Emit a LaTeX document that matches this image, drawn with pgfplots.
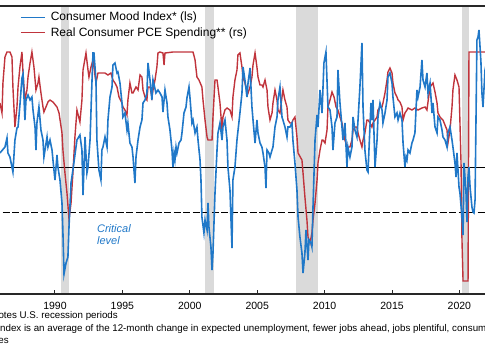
\documentclass[border=0pt]{standalone}
\usepackage{fontspec}
\setmainfont{Liberation Sans}
\usepackage{pgfplots}
\pgfplotsset{compat=1.18}
\definecolor{moodblue}{RGB}{32,120,200}
\definecolor{pcered}{RGB}{192,52,60}
\definecolor{recgray}{RGB}{218,218,218}
\definecolor{framecol}{RGB}{40,40,40}

\pgfplotstableread{
year v
1985.92 0.28
1986.29 0.40
1986.44 0.58
1986.51 0.28
1986.66 0.20
1986.88 -0.10
1987.03 0.54
1987.18 0.78
1987.26 0.80
1987.40 1.24
1987.55 1.78
1987.63 1.86
1987.77 0.94
1987.85 1.34
1988.00 1.44
1988.15 1.34
1988.29 1.40
1988.37 1.14
1988.52 0.80
1988.59 0.34
1988.66 0.88
1988.81 1.20
1988.96 0.74
1989.11 0.54
1989.18 0.20
1989.41 0.60
1989.48 0.40
1989.63 0.54
1989.78 0.34
1989.85 0.14
1990.00 -0.26
1990.15 0.24
1990.22 0.00
1990.37 -0.26
1990.52 -0.72
1990.59 -1.32
1990.67 -2.14
1990.82 -1.92
1990.96 -1.80
1991.04 -1.20
1991.19 -0.32
1991.33 -0.06
1991.63 0.54
1991.85 0.64
1992.00 0.34
1992.08 -0.56
1992.23 0.60
1992.37 -0.12
1992.45 0.00
1992.60 0.54
1992.74 1.68
1992.82 2.28
1992.89 2.28
1993.04 1.74
1993.11 0.54
1993.26 -0.06
1993.41 -0.26
1993.48 0.34
1993.56 0.40
1993.71 0.60
1993.86 0.40
1993.93 0.94
1994.08 1.40
1994.23 1.60
1994.30 2.04
1994.45 2.08
1994.60 1.88
1994.67 1.90
1994.82 1.68
1994.97 1.28
1995.04 1.00
1995.19 1.08
1995.34 0.74
1995.41 0.88
1995.56 0.48
1995.71 0.40
1995.79 0.20
1995.93 -0.32
1996.01 0.20
1996.16 0.54
1996.31 0.80
1996.45 0.94
1996.53 1.28
1996.68 1.34
1996.82 1.48
1996.90 2.08
1997.05 1.74
1997.19 1.34
1997.27 1.74
1997.49 1.48
1997.64 1.54
1997.79 1.48
1997.94 1.40
1998.01 1.10
1998.16 1.54
1998.31 1.28
1998.38 1.00
1998.53 0.74
1998.68 0.34
1998.75 0.00
1998.83 0.28
1998.90 0.14
1998.98 0.40
1999.05 0.28
1999.20 0.48
1999.35 0.54
1999.42 0.68
1999.57 1.08
1999.72 1.20
1999.79 1.38
1999.94 1.60
2000.01 1.40
2000.16 0.88
2000.24 0.94
2000.39 0.68
2000.53 0.80
2000.61 0.54
2000.76 0.14
2000.83 -0.26
2000.90 -1.00
2001.05 -1.32
2001.13 -1.06
2001.28 -1.26
2001.35 -0.72
2001.42 -1.20
2001.57 -1.60
2001.65 -2.06
2001.72 -1.72
2001.87 -0.52
2002.02 0.34
2002.09 0.68
2002.24 0.88
2002.39 0.54
2002.46 0.80
2002.61 0.94
2002.76 0.54
2002.83 0.00
2002.98 -0.46
2003.13 -1.62
2003.20 -0.26
2003.35 0.00
2003.50 0.54
2003.72 1.08
2003.87 1.48
2003.95 2.00
2004.09 1.74
2004.24 1.40
2004.32 1.68
2004.47 1.98
2004.61 1.20
2004.69 0.94
2004.84 0.48
2004.98 0.94
2005.06 0.68
2005.21 0.48
2005.35 0.40
2005.43 0.28
2005.58 0.00
2005.65 -0.42
2005.73 0.34
2005.87 0.28
2005.95 0.20
2006.10 0.34
2006.17 0.40
2006.32 0.80
2006.47 1.00
2006.54 1.34
2006.69 1.60
2006.84 1.00
2006.91 0.94
2007.06 0.80
2007.21 0.60
2007.28 0.80
2007.43 0.80
2007.58 0.88
2007.65 0.54
2007.80 0.08
2007.95 -0.46
2008.03 -1.00
2008.17 -1.40
2008.32 -1.72
2008.40 -2.12
2008.54 -1.72
2008.62 -1.26
2008.77 -1.86
2008.84 -1.46
2008.99 -1.52
2009.06 -1.60
2009.14 -0.80
2009.29 0.54
2009.44 1.04
2009.51 0.80
2009.66 1.54
2009.81 1.08
2009.95 2.08
2010.10 2.30
2010.25 1.20
2010.40 1.14
2010.55 0.80
2010.62 0.34
2010.77 0.88
2010.92 1.00
2010.99 1.94
2011.14 1.28
2011.29 0.80
2011.36 0.54
2011.51 0.88
2011.66 0.00
2011.73 0.40
2011.88 0.20
2012.03 0.40
2012.11 1.00
2012.25 0.74
2012.40 0.60
2012.48 0.94
2012.62 1.60
2012.77 2.48
2012.85 1.20
2012.99 0.34
2013.14 -0.06
2013.22 -0.10
2013.29 0.34
2013.44 1.28
2013.51 0.94
2013.59 1.34
2013.74 0.00
2013.89 0.54
2013.96 1.00
2014.11 1.28
2014.26 1.14
2014.33 0.88
2014.48 1.08
2014.63 1.34
2014.70 1.80
2014.85 1.88
2015.00 1.68
2015.07 1.40
2015.22 1.00
2015.37 1.08
2015.45 0.94
2015.59 1.08
2015.74 0.94
2015.82 0.48
2015.96 0.00
2016.04 0.20
2016.11 0.14
2016.19 0.34
2016.33 0.28
2016.48 0.48
2016.56 0.54
2016.70 0.68
2016.85 1.54
2016.93 1.40
2017.08 1.60
2017.22 2.14
2017.30 1.74
2017.45 1.60
2017.59 1.88
2017.67 1.48
2017.82 1.68
2017.97 1.08
2018.04 1.28
2018.19 0.80
2018.34 0.68
2018.41 1.00
2018.56 0.94
2018.71 0.74
2018.78 0.60
2018.93 0.54
2019.08 0.40
2019.15 0.68
2019.30 0.80
2019.45 0.54
2019.52 0.40
2019.67 0.08
2019.75 -0.20
2019.82 0.28
2019.97 -0.40
2020.04 -0.52
2020.19 -1.00
2020.27 -1.36
2020.34 0.08
2020.49 -0.52
2020.56 -1.10
2020.64 -0.20
2020.71 0.00
2020.79 -0.40
2020.93 -0.80
2021.01 -0.90
2021.08 -0.92
2021.16 -0.66
2021.23 0.94
2021.30 2.54
2021.38 2.60
2021.45 2.74
2021.53 2.40
2021.60 2.08
2021.67 1.48
2021.75 1.20
2021.90 1.94
2022.05 2.14
}\mooddata

\pgfplotstableread{
year r
1985.92 3.20
1986.07 2.70
1986.14 4.20
1986.29 5.50
1986.44 5.75
1986.66 5.75
1986.81 5.50
1986.88 4.00
1987.03 2.00
1987.18 3.00
1987.26 4.00
1987.40 5.00
1987.55 5.75
1987.63 4.70
1987.77 3.35
1987.92 3.85
1988.00 4.50
1988.15 5.20
1988.29 5.75
1988.44 5.00
1988.59 3.85
1988.74 4.20
1988.81 4.50
1988.96 3.70
1989.11 3.00
1989.18 2.75
1989.33 3.00
1989.48 3.25
1989.63 3.35
1989.85 3.25
1990.15 3.00
1990.30 2.70
1990.52 1.70
1990.59 0.85
1990.74 -0.30
1990.89 -1.30
1991.04 -2.60
1991.19 -1.80
1991.33 -0.30
1991.48 1.50
1991.63 2.85
1991.85 2.25
1992.00 3.35
1992.08 4.85
1992.30 5.70
1992.45 4.85
1992.52 4.50
1992.67 5.00
1992.82 5.35
1992.89 5.00
1993.04 4.20
1993.19 4.70
1993.48 4.70
1993.71 4.70
1993.93 4.60
1994.15 4.70
1994.30 4.35
1994.45 4.20
1994.60 4.00
1994.75 3.50
1994.97 3.20
1995.04 3.00
1995.19 2.85
1995.34 2.60
1995.41 3.35
1995.56 4.20
1995.71 3.70
1995.79 3.70
1996.01 4.00
1996.16 3.85
1996.31 4.60
1996.45 4.50
1996.53 3.85
1996.68 3.50
1996.82 3.35
1996.90 4.00
1997.05 4.00
1997.19 3.50
1997.27 3.85
1997.42 4.35
1997.56 5.00
1997.64 5.70
1997.79 5.75
1998.01 5.70
1998.09 5.10
1998.16 5.70
1998.75 5.75
2000.24 5.75
2000.39 5.35
2000.53 4.50
2000.68 4.35
2000.90 4.00
2000.98 3.35
2001.13 2.35
2001.28 1.50
2001.35 1.35
2001.65 1.35
2001.72 2.50
2001.87 4.35
2002.02 4.35
2002.09 4.00
2002.24 3.20
2002.39 1.85
2002.46 2.50
2002.61 2.85
2002.76 2.95
2002.98 2.85
2003.13 2.50
2003.20 3.50
2003.35 4.35
2003.50 4.85
2003.57 5.60
2003.72 5.70
2003.87 5.00
2003.95 4.50
2004.09 4.20
2004.24 3.85
2004.32 3.70
2004.47 4.00
2004.61 4.50
2004.69 5.10
2004.84 5.70
2004.98 5.00
2005.06 4.50
2005.21 4.10
2005.35 4.10
2005.43 4.00
2005.58 4.35
2005.73 3.85
2005.80 3.00
2005.95 2.35
2006.10 2.70
2006.17 3.20
2006.32 3.85
2006.47 3.35
2006.54 2.85
2006.69 2.70
2006.84 3.50
2006.91 3.85
2007.06 3.35
2007.21 3.00
2007.28 2.35
2007.43 2.20
2007.58 2.20
2007.65 2.35
2007.80 2.50
2007.95 1.50
2008.03 0.70
2008.32 0.35
2008.40 -0.30
2008.54 -1.50
2008.69 -2.65
2008.77 -3.50
2008.92 -3.80
2009.06 -3.30
2009.14 -2.65
2009.29 -1.80
2009.44 -0.65
2009.51 0.20
2009.66 0.85
2009.81 1.35
2009.88 1.35
2010.03 1.20
2010.18 1.85
2010.25 3.00
2010.40 3.35
2010.55 3.75
2010.70 3.50
2010.85 3.00
2010.99 2.85
2011.14 2.50
2011.29 2.20
2011.36 1.85
2011.51 1.35
2011.66 1.00
2011.88 1.00
2012.03 1.35
2012.11 1.85
2012.25 2.00
2012.40 2.00
2012.48 1.70
2012.62 1.35
2012.77 1.00
2012.85 1.35
2012.99 1.70
2013.14 2.35
2013.22 2.35
2013.37 2.20
2013.51 2.00
2013.59 2.20
2013.74 2.35
2013.89 2.50
2013.96 2.85
2014.11 3.00
2014.26 3.00
2014.33 3.20
2014.48 3.70
2014.63 4.35
2014.70 4.75
2014.85 4.95
2015.00 4.70
2015.07 4.20
2015.22 3.70
2015.37 3.50
2015.45 3.35
2015.59 3.25
2015.74 3.00
2015.82 2.35
2015.96 2.70
2016.11 2.85
2016.19 2.95
2016.48 2.85
2016.70 2.95
2016.93 2.85
2017.22 2.95
2017.45 3.00
2017.59 2.85
2017.82 4.00
2018.04 4.20
2018.19 3.75
2018.34 3.20
2018.41 2.70
2018.56 2.50
2018.78 2.35
2019.08 1.85
2019.15 1.20
2019.30 1.85
2019.45 3.00
2019.52 3.85
2019.67 4.60
2019.82 4.35
2019.97 4.00
2020.12 0.20
2020.19 -3.65
2020.27 -5.70
2020.64 -5.70
2020.71 5.75
2021.90 5.75
2022.27 5.75
}\pcedata

\begin{document}
\begin{tikzpicture}
\useasboundingbox (0pt,0pt) rectangle (485pt,360pt);
\clip (0pt,0pt) rectangle (485pt,360pt);

% right axis: real consumer PCE spending (rs), drawn first
\begin{axis}[
  at={(-10pt,66pt)}, anchor=south west,
  scale only axis, width=505pt, height=288pt,
  xmin=1985.18, xmax=2022.64, ymin=-6.35, ymax=8.05,
  axis line style={framecol, line width=1.2pt},
  xtick={1990,1995,2000,2005,2010,2015,2020},
  xtick pos=bottom, ytick=\empty,
  tick align=inside, major tick length=4.5pt,
  tick style={framecol, line width=1pt},
  xticklabel style={font=\fontsize{10.5}{12}\selectfont, inner sep=0pt, anchor=north, yshift=-7.5pt},
  /pgf/number format/1000 sep={},
  /pgf/number format/assume math mode=true,
]
\addplot[fill=recgray, draw=none, forget plot] coordinates {(1990.45,-6.35) (1991.04,-6.35) (1991.04,8.05) (1990.45,8.05)} -- cycle;
\addplot[fill=recgray, draw=none, forget plot] coordinates {(2001.13,-6.35) (2001.80,-6.35) (2001.80,8.05) (2001.13,8.05)} -- cycle;
\addplot[fill=recgray, draw=none, forget plot] coordinates {(2007.88,-6.35) (2009.51,-6.35) (2009.51,8.05) (2007.88,8.05)} -- cycle;
\addplot[fill=recgray, draw=none, forget plot] coordinates {(2020.19,-6.35) (2020.71,-6.35) (2020.71,8.05) (2020.19,8.05)} -- cycle;
\addplot[black, line width=1pt, forget plot] coordinates {(1984,0) (2024,0)};
\addplot[black, line width=1.3pt, dash pattern=on 7pt off 2.5pt, forget plot] coordinates {(1984,-2.265) (2024,-2.265)};
\addplot[pcered, line width=1.4pt, forget plot] table[x=year, y=r] {\pcedata};
\end{axis}

% left axis: consumer mood index (ls)
\begin{axis}[
  at={(-10pt,66pt)}, anchor=south west,
  scale only axis, width=505pt, height=288pt,
  xmin=1985.18, xmax=2022.64, ymin=-2.54, ymax=3.22,
  hide axis,
  legend style={at={(0.0594,0.979)}, anchor=north west, draw=none, fill=none,
    inner sep=0pt, row sep=5pt, font=\fontsize{12}{14}\selectfont,
    nodes={inner sep=0pt},
    /tikz/every odd column/.append style={column sep=5pt}},
  legend cell align=left,
  legend image code/.code={\draw[#1] (0pt,0pt) -- (24pt,0pt);},
]
\addplot[moodblue, line width=1.6pt] table[x=year, y=v] {\mooddata};
\addlegendentry{Consumer Mood Index* (ls)}
\addlegendimage{pcered, line width=1.6pt}
\addlegendentry{Real Consumer PCE Spending** (rs)}
\node[anchor=north west, inner sep=0pt, align=left, text=moodblue,
  font=\fontsize{11}{12.5}\selectfont\itshape] at (axis cs:1993.11,-1.14) {Critical\\level};
\end{axis}
\draw[framecol, line width=1.2pt] (current axis.north west) -- (current axis.north east);
\draw[framecol, line width=1.2pt] (current axis.south west) -- (current axis.south east);

\node[anchor=base east, inner sep=0pt, font=\fontsize{9.75}{11}\selectfont] at (118pt,41.5pt) {Shading denotes U.S. recession periods};
\node[anchor=base west, inner sep=0pt, font=\fontsize{9.75}{11}\selectfont] at (-6.5pt,28.5pt) {*Index is an average of the 12-month change in expected unemployment, fewer jobs ahead, jobs plentiful, consumer confidence and consumer expectations};
\node[anchor=base east, inner sep=0pt, font=\fontsize{9.75}{11}\selectfont] at (9pt,16.5pt) {indices};
\end{tikzpicture}
\end{document}
